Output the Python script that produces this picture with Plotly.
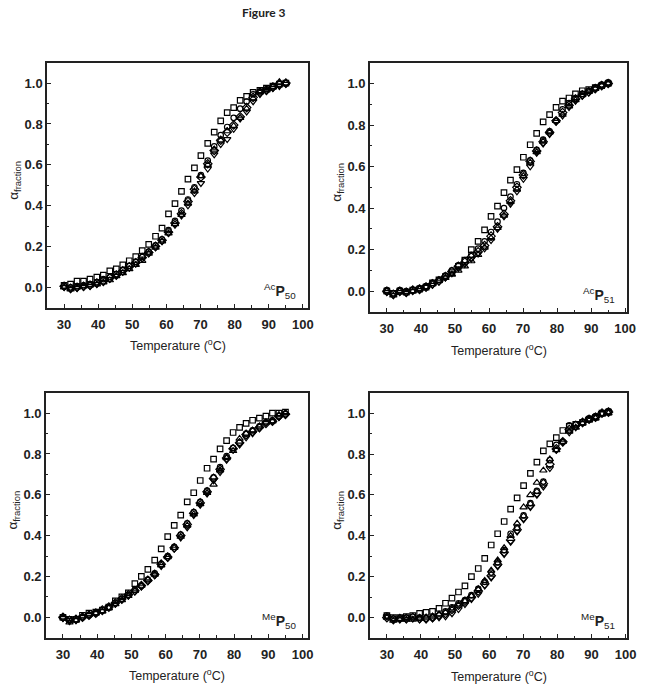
import plotly.graph_objects as go

temps = [30.0, 31.9, 33.8, 35.7, 37.6, 39.6, 41.5, 43.4, 45.3, 47.2, 49.1, 51.0,
         52.9, 54.8, 56.8, 58.7, 60.6, 62.5, 64.4, 66.3, 68.2, 70.1, 72.1, 74.0,
         75.9, 77.8, 79.7, 81.6, 83.5, 85.4, 87.4, 89.3, 91.2, 93.1, 95.0]

# ---- Panel 1: AcP50 ----
ac50_square = [0.01, 0.015, 0.03, 0.03, 0.04, 0.05, 0.06, 0.08, 0.09, 0.11, 0.13, 0.15,
               0.18, 0.21, 0.25, 0.29, 0.36, 0.41, 0.47, 0.53, 0.585, 0.645, 0.705, 0.76,
               0.815, 0.855, 0.88, 0.915, 0.935, 0.955, 0.965, 0.975, 0.985, 0.995, 1.0]
ac50_circle = [0.005, 0.0, 0.005, 0.01, 0.015, 0.025, 0.04, 0.05, 0.065, 0.085, 0.105, 0.125,
               0.15, 0.175, 0.205, 0.235, 0.28, 0.325, 0.375, 0.43, 0.49, 0.55, 0.62, 0.69,
               0.745, 0.785, 0.83, 0.875, 0.91, 0.945, 0.96, 0.97, 0.985, 0.995, 1.0]
ac50_tri_up = [0.0, -0.01, 0.0, 0.005, 0.01, 0.015, 0.025, 0.035, 0.055, 0.07, 0.09, 0.11,
               0.13, 0.165, 0.195, 0.225, 0.265, 0.31, 0.355, 0.41, 0.47, 0.545, 0.6, 0.675,
               0.72, 0.765, 0.79, 0.83, 0.875, 0.925, 0.955, 0.965, 0.98, 1.005, 1.0]
ac50_tri_down = [0.0, -0.01, -0.005, 0.0, 0.005, 0.015, 0.025, 0.04, 0.055, 0.075, 0.095, 0.115,
                 0.14, 0.165, 0.195, 0.225, 0.265, 0.305, 0.35, 0.4, 0.46, 0.51, 0.58, 0.65,
                 0.7, 0.725, 0.775, 0.825, 0.86, 0.91, 0.945, 0.96, 0.975, 0.985, 0.995]
ac50_diamond = [0.005, -0.005, 0.0, 0.005, 0.01, 0.02, 0.03, 0.045, 0.06, 0.08, 0.1, 0.12,
                0.145, 0.17, 0.2, 0.23, 0.27, 0.315, 0.36, 0.42, 0.48, 0.54, 0.605, 0.67,
                0.72, 0.76, 0.795, 0.835, 0.88, 0.93, 0.955, 0.965, 0.98, 0.995, 1.0]

# ---- Panel 2: AcP51 ----
ac51_square = [0.0, -0.01, 0.0, -0.005, 0.005, 0.01, 0.02, 0.04, 0.055, 0.07, 0.09, 0.12,
               0.15, 0.2, 0.24, 0.295, 0.36, 0.41, 0.475, 0.535, 0.585, 0.645, 0.705, 0.76,
               0.815, 0.85, 0.885, 0.915, 0.93, 0.95, 0.965, 0.97, 0.98, 0.99, 1.0]
ac51_circle = [0.005, -0.01, 0.005, 0.0, 0.005, 0.015, 0.025, 0.04, 0.055, 0.075, 0.1, 0.125,
               0.15, 0.175, 0.205, 0.24, 0.285, 0.335, 0.4, 0.455, 0.515, 0.57, 0.63, 0.68,
               0.73, 0.77, 0.82, 0.875, 0.905, 0.93, 0.95, 0.965, 0.98, 0.995, 1.005]
ac51_tri_up = [0.0, -0.02, 0.0, -0.005, 0.0, 0.01, 0.02, 0.035, 0.05, 0.065, 0.08, 0.1,
               0.12, 0.145, 0.175, 0.21, 0.255, 0.305, 0.365, 0.43, 0.49, 0.555, 0.62, 0.67,
               0.72, 0.765, 0.82, 0.85, 0.89, 0.92, 0.945, 0.96, 0.975, 0.99, 1.0]
ac51_tri_down = [-0.005, -0.02, -0.005, -0.01, 0.0, 0.005, 0.02, 0.03, 0.045, 0.065, 0.085, 0.11,
                 0.13, 0.155, 0.18, 0.205, 0.245, 0.3, 0.36, 0.42, 0.48, 0.54, 0.6, 0.665,
                 0.71, 0.755, 0.815, 0.845, 0.885, 0.915, 0.94, 0.955, 0.975, 0.99, 1.0]
ac51_diamond = [0.0, -0.015, 0.0, -0.005, 0.005, 0.01, 0.02, 0.035, 0.05, 0.07, 0.095, 0.12,
                0.14, 0.165, 0.19, 0.22, 0.265, 0.31, 0.37, 0.435, 0.5, 0.56, 0.625, 0.675,
                0.72, 0.765, 0.82, 0.86, 0.895, 0.925, 0.945, 0.96, 0.975, 0.99, 1.0]

# ---- Panel 3: MeP50 ----
me50_square = [0.0, -0.01, -0.01, 0.01, 0.02, 0.025, 0.035, 0.05, 0.08, 0.1, 0.12, 0.165,
               0.2, 0.235, 0.28, 0.335, 0.395, 0.45, 0.5, 0.565, 0.61, 0.67, 0.73, 0.775,
               0.825, 0.865, 0.905, 0.93, 0.95, 0.965, 0.975, 0.985, 1.0, 1.0, 1.005]
me50_circle = [0.0, -0.01, -0.01, 0.0, 0.01, 0.02, 0.035, 0.05, 0.07, 0.09, 0.11, 0.135,
               0.155, 0.185, 0.215, 0.26, 0.3, 0.345, 0.405, 0.46, 0.515, 0.565, 0.62, 0.685,
               0.735, 0.79, 0.83, 0.855, 0.9, 0.915, 0.935, 0.955, 0.965, 0.985, 0.995]
me50_tri_up = [0.0, -0.025, -0.015, 0.005, 0.015, 0.02, 0.03, 0.045, 0.065, 0.085, 0.105, 0.13,
               0.155, 0.185, 0.21, 0.255, 0.295, 0.34, 0.395, 0.45, 0.505, 0.555, 0.61, 0.65,
               0.72, 0.78, 0.815, 0.875, 0.9, 0.915, 0.935, 0.955, 0.96, 0.99, 1.0]
me50_tri_down = [-0.005, -0.015, -0.015, 0.0, 0.01, 0.02, 0.03, 0.05, 0.065, 0.085, 0.105, 0.125,
                 0.15, 0.175, 0.205, 0.25, 0.29, 0.335, 0.39, 0.44, 0.5, 0.55, 0.605, 0.67,
                 0.71, 0.77, 0.82, 0.845, 0.88, 0.9, 0.925, 0.95, 0.96, 0.98, 0.99]
me50_diamond = [0.0, -0.015, -0.01, 0.0, 0.01, 0.02, 0.035, 0.05, 0.07, 0.09, 0.11, 0.13,
                0.155, 0.18, 0.21, 0.26, 0.295, 0.34, 0.4, 0.455, 0.51, 0.56, 0.615, 0.68,
                0.725, 0.78, 0.825, 0.855, 0.895, 0.91, 0.93, 0.95, 0.96, 0.985, 0.995]

# ---- Panel 4: MeP51 ----
me51_square = [0.01, 0.0, 0.0, 0.005, 0.01, 0.02, 0.025, 0.03, 0.045, 0.07, 0.095, 0.125,
               0.155, 0.2, 0.24, 0.29, 0.355, 0.41, 0.47, 0.53, 0.585, 0.645, 0.705, 0.76,
               0.815, 0.85, 0.88, 0.915, 0.935, 0.945, 0.955, 0.97, 0.98, 1.0, 1.005]
me51_circle = [0.01, -0.005, -0.005, 0.0, 0.005, 0.0, -0.005, 0.0, 0.01, 0.03, 0.05, 0.07,
               0.085, 0.11, 0.14, 0.175, 0.22, 0.27, 0.33, 0.41, 0.44, 0.5, 0.56, 0.62,
               0.665, 0.77, 0.845, 0.86, 0.94, 0.945, 0.955, 0.975, 0.985, 1.0, 1.01]
me51_tri_up = [0.0, -0.015, -0.01, -0.01, -0.01, -0.005, 0.0, 0.005, 0.015, 0.025, 0.04, 0.06,
               0.08, 0.105, 0.14, 0.18, 0.23, 0.28, 0.34, 0.4, 0.46, 0.54, 0.6, 0.66,
               0.72, 0.775, 0.82, 0.86, 0.91, 0.93, 0.95, 0.965, 0.975, 0.995, 1.0]
me51_tri_down = [0.005, -0.01, -0.01, -0.01, -0.005, -0.01, -0.01, -0.005, 0.0, 0.005, 0.02, 0.04,
                 0.065, 0.09, 0.115, 0.155, 0.195, 0.25, 0.31, 0.37, 0.42, 0.48, 0.54, 0.6,
                 0.64, 0.73, 0.82, 0.855, 0.905, 0.93, 0.95, 0.97, 0.98, 1.0, 1.005]
me51_diamond = [0.0, -0.01, -0.005, -0.005, 0.0, -0.005, -0.005, 0.0, 0.01, 0.02, 0.04, 0.06,
                0.08, 0.1, 0.13, 0.165, 0.205, 0.26, 0.32, 0.38, 0.43, 0.49, 0.55, 0.61,
                0.655, 0.75, 0.825, 0.86, 0.92, 0.94, 0.955, 0.97, 0.98, 1.0, 1.005]

panel_labels = [("Ac", "50"), ("Ac", "51"), ("Me", "50"), ("Me", "51")]
x_ticks = [30, 40, 50, 60, 70, 80, 90, 100]
x_tick_text = ["30", "40", "50", "60", "70", "80", "90", "100"]
y_ticks = [0.0, 0.2, 0.4, 0.6, 0.8, 1.0]
y_tick_text = ["0.0", "0.2", "0.4", "0.6", "0.8", "1.0"]

panels = [
    [ac50_square, ac50_circle, ac50_tri_up, ac50_tri_down, ac50_diamond],
    [ac51_square, ac51_circle, ac51_tri_up, ac51_tri_down, ac51_diamond],
    [me50_square, me50_circle, me50_tri_up, me50_tri_down, me50_diamond],
    [me51_square, me51_circle, me51_tri_up, me51_tri_down, me51_diamond],
]
symbols = ["square-open", "circle-open", "triangle-up-open", "triangle-down-open", "diamond-open"]
sizes = [5.5, 5.5, 6.5, 6.5, 6.5]

W, H = 653, 689
# pixel boxes (left, right, top, bottom)
boxes = [(47.7, 312.7, 62.7, 307.7), (375, 636, 62.7, 312.0),
         (46.5, 312.7, 392.7, 637.7), (375, 636, 392.7, 638.0)]
xranges = [[25, 101.6], [25, 100.6], [25, 101.7], [25, 100.5]]

fig = go.Figure()
layout = dict(width=W, height=H, margin=dict(l=0, r=0, t=0, b=0),
              paper_bgcolor="white", plot_bgcolor="white", showlegend=False)
annotations = []
FONT = "Liberation Sans, Arial"

for i, (series, box, xr) in enumerate(zip(panels, boxes, xranges)):
    n = "" if i == 0 else str(i + 1)
    xa, ya = "x" + n, "y" + n
    for ys, sym, sz in zip(series, symbols, sizes):
        fig.add_trace(go.Scatter(
            x=temps, y=ys, mode="markers", xaxis=xa, yaxis=ya,
            marker=dict(symbol=sym, size=sz, color="black", line=dict(width=1.2, color="black")),
        ))
    l, r, t, b = box
    common = dict(showline=True, linecolor="#222", linewidth=1.5, mirror=True,
                  ticks="inside", ticklen=4, tickwidth=1.2, tickcolor="#222",
                  showgrid=False, zeroline=False,
                  tickfont=dict(family=FONT, size=13, color="#222"))
    layout["xaxis" + n] = dict(domain=[l / W, r / W], anchor=ya, range=xr,
                               tickvals=x_ticks, ticktext=[f"<b>{s}</b>" for s in x_tick_text],
                               ticklabelstandoff=4,
                               minor=dict(ticks="inside", ticklen=2.5, dtick=5, tick0=0,
                                          tickcolor="#222", tickwidth=1),
                               **common)
    layout["yaxis" + n] = dict(domain=[1 - b / H, 1 - t / H], anchor=xa, range=[-0.1, 1.1],
                               tickvals=y_ticks, ticktext=[f"<b>{s}</b>" for s in y_tick_text],
                               minor=dict(ticks="inside", ticklen=2.5, dtick=0.1, tick0=0,
                                          tickcolor="#222", tickwidth=1),
                               **common)
    # x-axis title
    annotations.append(dict(
        text="Temperature (<sup>o</sup>C)", xref=xa + " domain", yref=ya + " domain",
        x=0.5, y=-(37.5 / (b - t)), xanchor="center", yanchor="middle", showarrow=False,
        font=dict(family=FONT, size=12.5, color="#222")))
    # y-axis title
    annotations.append(dict(
        text="α<sub>fraction</sub>", xref="paper", yref=ya + " domain",
        x=(l - 33) / W, y=0.52, xanchor="center", yanchor="middle", textangle=-90,
        showarrow=False,
        font=dict(family=FONT, size=13.5, color="#222")))
    # panel label
    pre, sub = panel_labels[i]
    annotations.append(dict(
        text=f"<sup>{pre}</sup><b>P</b><sub>{sub}</sub>",
        xref=xa + " domain", yref=ya + " domain", x=0.96, y=0.02,
        xanchor="right", yanchor="bottom", showarrow=False,
        font=dict(family=FONT, size=14, color="#222")))

annotations.append(dict(
    text="<b>Figure 3</b>", xref="paper", yref="paper", x=268 / W, y=1 - 12 / H,
    xanchor="center", yanchor="middle", showarrow=False,
    font=dict(family="Lato, Carlito, sans-serif", size=12, color="#222")))

layout["annotations"] = annotations
fig.update_layout(**layout)
# remove the default page margin so the figure fills the window exactly
fig.write_html("out.html", config={"displayModeBar": False},
               post_script="document.body.style.margin='0';")
